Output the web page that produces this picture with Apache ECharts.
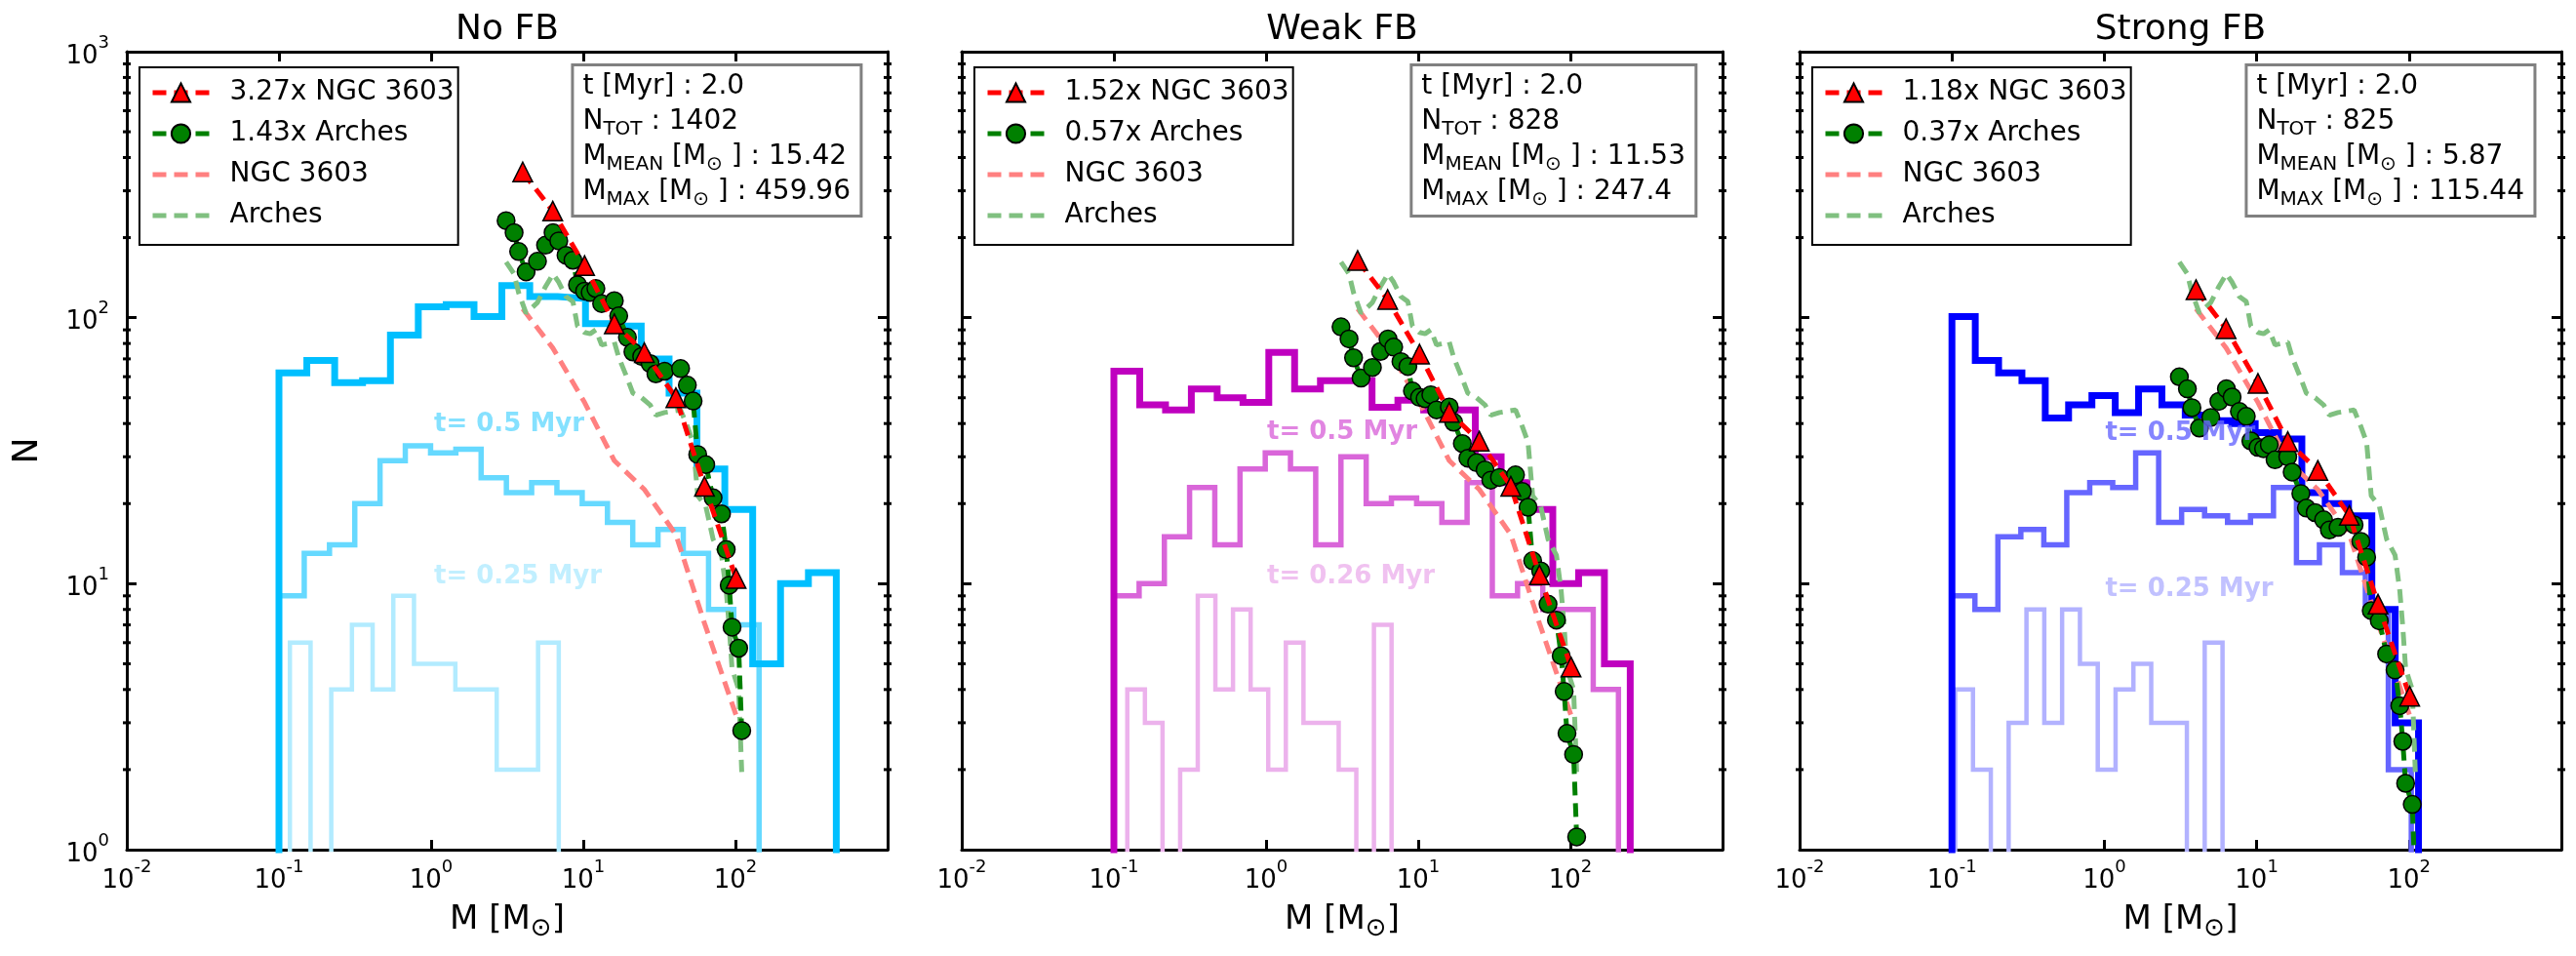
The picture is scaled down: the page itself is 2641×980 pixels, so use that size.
<!DOCTYPE html>
<html>
<head>
<meta charset="utf-8">
<script src="https://cdn.jsdelivr.net/npm/echarts@6/dist/echarts.min.js"></script>
<style>
html, body { margin: 0; padding: 0; background: #fff; }
#chart { width: 2641px; height: 980px; }
</style>
</head>
<body>
<div id="chart"></div>
<script>
// panel texts
const panelTitles = ['No FB', 'Weak FB', 'Strong FB'];
const tMyr = ['2.0', '2.0', '2.0'];
const nTot = ['1402', '828', '825'];
const mMean = ['15.42', '11.53', '5.87'];
const mMax = ['459.96', '247.4', '115.44'];
const ngcFactor = [3.27, 1.52, 1.18];
const archesFactor = [1.43, 0.57, 0.37];
const labels05 = ['t= 0.5 Myr', 't= 0.5 Myr', 't= 0.5 Myr'];
const labels025 = ['t= 0.25 Myr', 't= 0.26 Myr', 't= 0.25 Myr'];
const labelMass = [1.03, 1.0, 1.0];
const label05N = [39.5, 37, 36.7];
const label025N = [10.6, 10.6, 9.5];

// observed mass functions (unscaled)
const ngcMass = [4.0, 6.3, 10.2, 16.0, 25.2, 40.6, 62.6, 101];
const ngcN = [108, 77, 48, 29, 22.6, 15.3, 7.1, 3.2];
const archesMass = [3.11, 3.51, 3.76, 4.21, 5.0, 5.65, 6.33, 6.9, 7.7, 8.55, 9.16, 10.2, 11.1, 12.1, 13.2, 16.0, 17.1, 19.5,
  21.2, 24.2, 27.5, 30.0, 34.2, 43.6, 48.3, 52.7, 56.5, 63.8, 71.3, 81, 87, 91, 95, 105, 110];
const archesN = [162, 146, 124, 104, 114, 131, 146, 136, 120, 115, 93, 88, 87, 90, 79, 81, 71, 59,
  52, 50, 47, 43, 44, 45, 39, 34, 21.4, 19.6, 14.7, 12.8, 9.4, 6.9, 4.8, 4.0, 1.96];

// histograms: [first edge, last edge] of equal log bins, and counts
const noFbRange = [0.1, 459.96];
const noFbCounts = [62, 69, 57, 58, 86, 110, 112, 101, 132, 120, 118, 95, 93, 70, 52, 27, 19, 5, 10, 11];
const noFb05Range = [0.1, 143];
const noFb05Counts = [9, 13, 14, 20, 29, 33, 31, 32, 25, 22, 24, 22, 20, 17, 14, 16, 13, 8, 7];
const noFb025Range = [0.118, 6.9];
const noFb025Counts = [6, 0, 4, 7, 4, 9, 5, 5, 4, 4, 2, 2, 6];

const weakRange = [0.1, 247.4];
const weakCounts = [63, 47, 45, 54, 50, 48, 74, 54, 58, 58, 46, 49, 45, 45, 30, 24, 19, 10, 11, 5];
const weak05Range = [0.1, 207];
const weak05Counts = [9, 10, 15, 23, 14, 27, 31, 27, 14, 30, 20, 21, 20, 17, 24, 9, 10, 8, 8, 4];
const weak025Range = [0.1225, 6.68];
const weak025Counts = [4, 3, 0, 2, 9, 4, 8, 4, 2, 6, 3, 3, 2, 0, 7];

const strongRange = [0.1, 115.44];
const strongCounts = [101, 69, 62, 58, 42, 47, 51, 44, 54, 47, 43, 41, 40, 37, 35, 22, 20, 18, 8, 3];
const strong05Range = [0.1, 103.5];
const strong05Counts = [9, 8, 15, 16, 14, 22, 24, 23, 31, 17, 19, 18, 17, 18, 23, 12, 14, 11, 8, 2];
const strong025Range = [0.105, 5.97];
const strong025Counts = [4, 2, 0, 3, 8, 3, 8, 5, 2, 4, 5, 3, 3, 0, 6];

const minorTickN = [2, 3, 4, 5, 6, 7, 8, 9, 20, 30, 40, 50, 60, 70, 80, 90, 200, 300, 400, 500, 600, 700, 800, 900];

const histSets = [
  [[noFb025Range, noFb025Counts], [noFb05Range, noFb05Counts], [noFbRange, noFbCounts]],
  [[weak025Range, weak025Counts], [weak05Range, weak05Counts], [weakRange, weakCounts]],
  [[strong025Range, strong025Counts], [strong05Range, strong05Counts], [strongRange, strongCounts]]
];
const histColors = [
  ['#b2ebff', '#66d9ff', '#00bfff'],
  ['#ecb2ec', '#d966d9', '#bf00bf'],
  ['#b2b2ff', '#6666ff', '#0000ff']
];
const histWidths = [4.5, 5.5, 7];

const FONT = '"DejaVu Sans", sans-serif';
const W = 2641;
const gridLeft = [130, 986, 1845];
const gridWidth = [780, 780, 781];
const gridTop = 53, gridHeight = 818;
const FLOOR = 0.01;
const DASH = [14, 8];

// step outline of a histogram, dropping to the floor at both ends
function histData(range, counts) {
  const lo = Math.log10(range[0]), hi = Math.log10(range[1]);
  const w = (hi - lo) / counts.length;
  const pts = [[range[0], FLOOR]];
  counts.forEach(function (c, k) {
    pts.push([Math.pow(10, lo + k * w), c > 0 ? c : FLOOR]);
  });
  const last = counts[counts.length - 1];
  pts.push([range[1], last > 0 ? last : FLOOR]);
  pts.push([range[1], FLOOR]);
  return pts;
}

function tickLabel(v, hideTop) {
  const e = Math.round(Math.log10(v));
  if (hideTop && e === 3) return '';
  return '{b|10}{s|' + e + '}';
}
const tickRich = {
  b: { fontSize: 26, fontFamily: FONT, color: '#000', lineHeight: 36, verticalAlign: 'bottom' },
  s: { fontSize: 18, fontFamily: FONT, color: '#000', lineHeight: 20, verticalAlign: 'top' }
};

function axisBase(extra) {
  return Object.assign({
    type: 'log', logBase: 10,
    axisLine: { show: true, onZero: false, lineStyle: { color: '#000', width: 3 } },
    axisTick: { show: true, inside: true, length: 10, lineStyle: { color: '#000', width: 3 } },
    splitLine: { show: false },
    minorTick: { show: false },
    axisPointer: { show: false }
  }, extra);
}

const option = {
  animation: false,
  backgroundColor: '#fff',
  grid: [], xAxis: [], yAxis: [], series: [], legend: [], title: [], graphic: []
};

for (let i = 0; i < 3; i++) {
  const gl = gridLeft[i], gw = gridWidth[i];
  option.grid.push({ left: gl, top: gridTop, width: gw, height: gridHeight, outerBoundsMode: 'none' });

  option.xAxis.push(axisBase({
    gridIndex: i, position: 'bottom', min: 0.01, max: 1000,
    axisLabel: { show: true, margin: 9, color: '#000', formatter: function (v) { return tickLabel(v, true); },
      rich: tickRich, showMinLabel: true, showMaxLabel: true },
    name: 'M [M{s|⊙}]', nameLocation: 'middle', nameGap: 46,
    nameTextStyle: { fontSize: 34, fontFamily: FONT, color: '#000', lineHeight: 44,
      rich: { s: { fontSize: 26, fontFamily: FONT, color: '#000', lineHeight: 22, verticalAlign: 'bottom' } } }
  }));
  option.xAxis.push(axisBase({ gridIndex: i, position: 'top', min: 0.01, max: 1000, axisLabel: { show: false } }));

  option.yAxis.push(axisBase({
    gridIndex: i, position: 'left', min: 1, max: 1000,
    axisLabel: { show: i === 0, margin: 18, color: '#000', formatter: function (v) { return tickLabel(v, false); },
      rich: tickRich, showMinLabel: true, showMaxLabel: true },
    name: i === 0 ? 'N' : '', nameLocation: 'middle', nameGap: 81,
    nameTextStyle: { fontSize: 36, fontFamily: FONT, color: '#000', lineHeight: 40 }
  }));
  option.yAxis.push(axisBase({ gridIndex: i, position: 'right', min: 1, max: 1000, axisLabel: { show: false } }));

  const xi = 2 * i, yi = 2 * i;

  // histograms
  histSets[i].forEach(function (h, k) {
    option.series.push({
      type: 'line', xAxisIndex: xi, yAxisIndex: yi, data: histData(h[0], h[1]),
      step: 'end', symbol: 'none', clip: true, silent: true, z: 1 + k,
      lineStyle: { color: histColors[i][k], width: histWidths[k], join: 'miter', cap: 'butt' }
    });
  });

  // unscaled observations
  option.series.push({
    name: 'NGC 3603', type: 'line', xAxisIndex: xi, yAxisIndex: yi,
    data: ngcMass.map(function (m, k) { return [m, ngcN[k]]; }),
    symbol: 'none', silent: true, z: 5,
    itemStyle: { color: 'rgba(0,0,0,0)', borderWidth: 0 },
    lineStyle: { color: '#ff8080', width: 5, type: DASH }
  });
  option.series.push({
    name: 'Arches', type: 'line', xAxisIndex: xi, yAxisIndex: yi,
    data: archesMass.map(function (m, k) { return [m, archesN[k]]; }),
    symbol: 'none', silent: true, z: 5,
    itemStyle: { color: 'rgba(0,0,0,0)', borderWidth: 0 },
    lineStyle: { color: '#80c080', width: 5, type: DASH }
  });

  // scaled observations
  const archesName = archesFactor[i].toFixed(2) + 'x Arches';
  const ngcName = ngcFactor[i].toFixed(2) + 'x NGC 3603';
  option.series.push({
    name: archesName, type: 'line', xAxisIndex: xi, yAxisIndex: yi,
    data: archesMass.map(function (m, k) { return [m, archesN[k] * archesFactor[i]]; }),
    symbol: 'circle', symbolSize: 18, showAllSymbol: true, silent: true, z: 6,
    itemStyle: { color: '#008000', borderColor: '#000', borderWidth: 1.5 },
    lineStyle: { color: '#008000', width: 5, type: DASH }
  });
  option.series.push({
    name: ngcName, type: 'line', xAxisIndex: xi, yAxisIndex: yi,
    data: ngcMass.map(function (m, k) { return [m, ngcN[k] * ngcFactor[i]]; }),
    symbol: 'triangle', symbolSize: 20, showAllSymbol: true, silent: true, z: 7,
    itemStyle: { color: '#ff0000', borderColor: '#000', borderWidth: 1.5 },
    lineStyle: { color: '#ff0000', width: 5, type: DASH }
  });

  // early-time labels
  option.series.push({
    type: 'scatter', xAxisIndex: xi, yAxisIndex: yi, symbolSize: 2,
    itemStyle: { color: 'rgba(0,0,0,0)' },
    silent: true, z: 8,
    label: { show: true, position: 'right', distance: 0, formatter: '{b}', fontSize: 26, fontWeight: 'bold', fontFamily: FONT },
    data: [
      { value: [labelMass[i], label05N[i]], name: labels05[i], label: { color: histColors[i][1] } },
      { value: [labelMass[i], label025N[i]], name: labels025[i], label: { color: histColors[i][0] } }
    ]
  });

  // minor ticks on left and right y axes
  option.series.push({
    type: 'custom', xAxisIndex: xi, yAxisIndex: yi, silent: true, clip: false, z: 10,
    data: minorTickN.map(function (v) { return [1, v]; }),
    renderItem: function (params, api) {
      const cs = params.coordSys;
      const y = api.coord([1, api.value(1)])[1];
      const st = { stroke: '#000', lineWidth: 3 };
      return { type: 'group', children: [
        { type: 'line', shape: { x1: cs.x - 4, y1: y, x2: cs.x + 4, y2: y }, style: st },
        { type: 'line', shape: { x1: cs.x + cs.width - 4, y1: y, x2: cs.x + cs.width + 4, y2: y }, style: st }
      ] };
    }
  });

  option.legend.push({
    orient: 'vertical', left: gl + 13, top: 69,
    data: [ngcName, archesName,
      { name: 'NGC 3603', itemStyle: { opacity: 0 } },
      { name: 'Arches', itemStyle: { opacity: 0 } }],
    selectedMode: false,
    backgroundColor: '#fff', borderColor: '#000', borderWidth: 2, borderRadius: 0,
    padding: [12, 4, 16, 11],
    itemWidth: 58, itemHeight: 24, itemGap: 14,
    lineStyle: { width: 5, type: DASH },
    textStyle: { fontSize: 28, fontFamily: FONT, color: '#000', lineHeight: 24, padding: [0, 0, 0, 16] },
    z: 20
  });

  const boxText = [
    '{a|t [Myr] : ' + tMyr[i] + '}',
    '{a|N}{s|TOT}{a| : ' + nTot[i] + '}',
    '{a|M}{s|MEAN}{a| [M}{s|⊙}{a| ] : ' + mMean[i] + '}',
    '{a|M}{s|MAX}{a| [M}{s|⊙}{a| ] : ' + mMax[i] + '}'
  ].join('\n');
  option.title.push({
    text: boxText, right: W - (gl + gw - 27), top: 66,
    padding: [5, 11, 7, 11], backgroundColor: '#fff', borderColor: '#808080', borderWidth: 3,
    textStyle: {
      fontSize: 28, fontFamily: FONT, color: '#000', fontWeight: 'normal', lineHeight: 36,
      rich: {
        a: { fontSize: 28, fontFamily: FONT, color: '#000', lineHeight: 36 },
        s: { fontSize: 20, fontFamily: FONT, color: '#000', lineHeight: 18, verticalAlign: 'bottom' }
      }
    },
    z: 20
  });

  option.graphic.push({
    type: 'text', x: gl + gw / 2, y: 31, silent: true,
    style: { text: panelTitles[i], fontSize: 36, fontFamily: FONT, fill: '#000', align: 'center', verticalAlign: 'middle' }
  });
}

const chart = echarts.init(document.getElementById('chart'), null, { renderer: 'canvas' });
chart.setOption(option);
</script>
</body>
</html>
